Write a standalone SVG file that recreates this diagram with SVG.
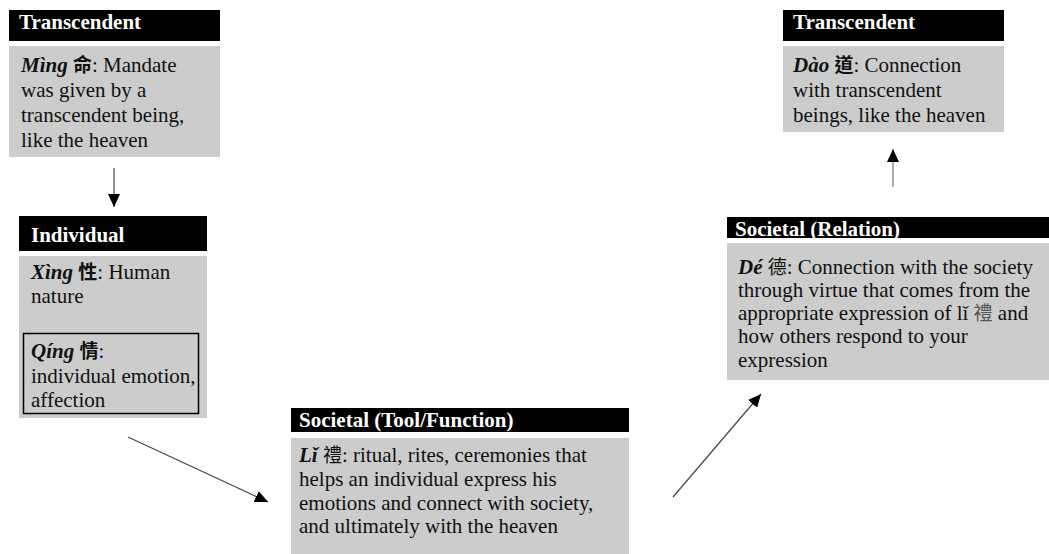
<svg xmlns="http://www.w3.org/2000/svg" width="1049" height="554" viewBox="0 0 1049 554">
<style>
  .hdr { fill: #000000; }
  .body { fill: #cccccc; }
  .ht { font-family: 'Liberation Serif', 'Times New Roman', serif; font-weight: bold; font-size: 21px; fill: #ffffff; }
  .t { font-family: 'Liberation Serif', 'Times New Roman', 'Noto Sans CJK TC', serif; font-size: 21px; fill: #111111; }
  .k { font-weight: bold; font-style: italic; }
  .cjk { font-family: 'Noto Sans CJK TC', 'Noto Sans CJK SC', sans-serif; font-size: 19px; }
  .cb { font-weight: bold; }
  .conn { stroke: #444444; stroke-width: 1.2; fill: none; }
  .conn-light { stroke: #888888; stroke-width: 1.4; fill: none; }
</style>
<defs>
  <marker id="ah" markerUnits="userSpaceOnUse" markerWidth="14" markerHeight="12" refX="13" refY="6" orient="auto">
    <path d="M0,0 L13,6 L0,12 Z" fill="#000000"/>
  </marker>
</defs>

<g id="node-transcendent-ming">
  <rect class="hdr" x="9" y="10" width="211" height="31"/>
  <text class="ht" x="19" y="29">Transcendent</text>
  <rect class="body" x="9" y="46" width="211" height="111"/>
  <text class="t" x="21" y="72"><tspan class="k">Mìng</tspan> <tspan class="cjk cb">命</tspan>: Mandate</text>
  <text class="t" x="21" y="97">was given by a</text>
  <text class="t" x="21" y="122">transcendent being,</text>
  <text class="t" x="21" y="147">like the heaven</text>
</g>

<g id="node-individual">
  <rect class="hdr" x="19" y="216" width="188" height="35"/>
  <text class="ht" x="31" y="242">Individual</text>
  <rect class="body" x="19" y="256" width="188" height="162"/>
  <text class="t" x="31" y="279"><tspan class="k">Xìng</tspan> <tspan class="cjk cb">性</tspan>: Human</text>
  <text class="t" x="31" y="303">nature</text>
  <rect x="23.5" y="333.5" width="175" height="80" fill="none" stroke="#000000" stroke-width="1.5"/>
  <text class="t" x="31" y="358"><tspan class="k">Qíng</tspan> <tspan class="cjk cb">情</tspan>:</text>
  <text class="t" x="31" y="383">individual emotion,</text>
  <text class="t" x="31" y="407">affection</text>
</g>

<g id="node-societal-tool">
  <rect class="hdr" x="291" y="408" width="338" height="24"/>
  <text class="ht" x="299" y="427">Societal (Tool/Function)</text>
  <rect class="body" x="291" y="438" width="338" height="116"/>
  <text class="t" x="299" y="462"><tspan class="k">Lǐ</tspan> <tspan class="cjk">禮</tspan>: ritual, rites, ceremonies that</text>
  <text class="t" x="299" y="486">helps an individual express his</text>
  <text class="t" x="299" y="510">emotions and connect with society,</text>
  <text class="t" x="299" y="533">and ultimately with the heaven</text>
</g>

<g id="node-societal-relation">
  <rect class="hdr" x="727" y="217" width="322" height="21"/>
  <text class="ht" x="735" y="236">Societal (Relation)</text>
  <rect class="body" x="727" y="243" width="322" height="137"/>
  <text class="t" x="738" y="274"><tspan class="k">Dé</tspan> <tspan class="cjk">德</tspan>: Connection with the society</text>
  <text class="t" x="738" y="297">through virtue that comes from the</text>
  <text class="t" x="738" y="320">appropriate expression of lǐ <tspan class="cjk" fill="#555555">禮</tspan> and</text>
  <text class="t" x="738" y="343">how others respond to your</text>
  <text class="t" x="738" y="367">expression</text>
</g>

<g id="node-transcendent-dao">
  <rect class="hdr" x="783" y="10" width="221" height="31"/>
  <text class="ht" x="793" y="29">Transcendent</text>
  <rect class="body" x="783" y="46" width="221" height="86"/>
  <text class="t" x="793" y="72"><tspan class="k">Dào</tspan> <tspan class="cjk cb">道</tspan>: Connection</text>
  <text class="t" x="793" y="97">with transcendent</text>
  <text class="t" x="793" y="122">beings, like the heaven</text>
</g>

<g id="connectors">
  <line class="conn" x1="114" y1="168" x2="114" y2="207" marker-end="url(#ah)"/>
  <line class="conn" x1="128" y1="437" x2="268" y2="502" marker-end="url(#ah)"/>
  <line class="conn" x1="673" y1="497" x2="761" y2="394" marker-end="url(#ah)"/>
  <line class="conn-light" x1="893" y1="187" x2="893" y2="149" marker-end="url(#ah)"/>
</g>
</svg>
